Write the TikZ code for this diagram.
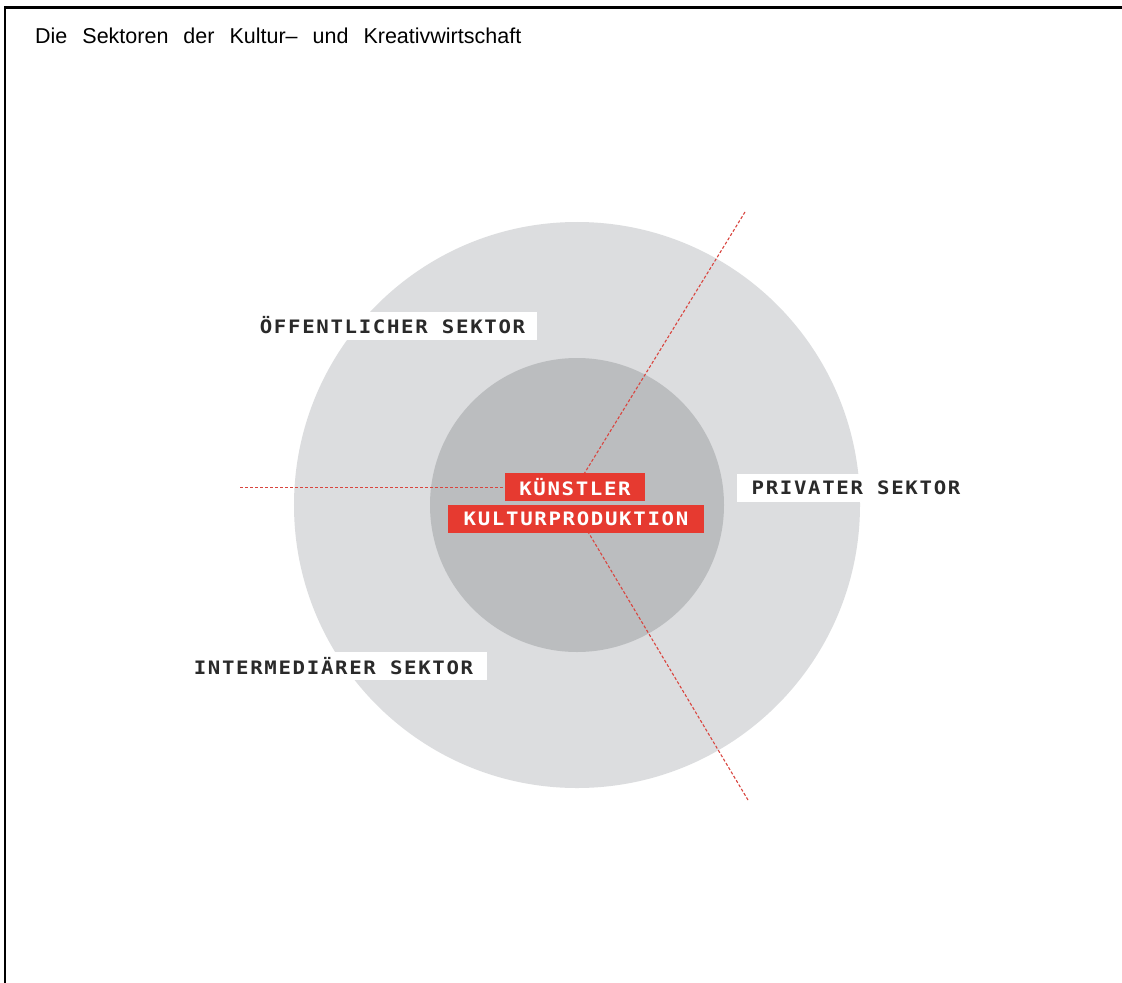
\documentclass[tikz,border=0pt]{standalone}
\usepackage{fontspec}
\setmainfont{Liberation Sans}
\newfontfamily\labfont[FakeStretch=1.12,LetterSpace=9]{DejaVu Sans Mono Bold}
\definecolor{outergray}{HTML}{DCDDDF}
\definecolor{innergray}{HTML}{BBBDBF}
\definecolor{kred}{HTML}{E63A30}
\definecolor{dashred}{HTML}{D9453F}
\definecolor{labtext}{HTML}{2A2A2A}
\begin{document}
\begin{tikzpicture}[x=1bp,y=-1bp,
  sector/.style={fill=white, text=labtext, inner xsep=0bp, inner ysep=0bp, minimum height=28bp, font=\labfont\fontsize{18.5bp}{19bp}\selectfont},
  core/.style={fill=kred, text=white, inner xsep=0bp, inner ysep=0bp, minimum height=28bp, font=\labfont\fontsize{18.5bp}{19bp}\selectfont},
  divider/.style={draw=dashred, line width=1.1bp, dash pattern=on 3bp off 2bp}]
\useasboundingbox (0,0) rectangle (1122,983);
\fill[white] (0,0) rectangle (1122,983);
% frame
\draw[line width=2.2bp] (5,983) -- (5,7.5) -- (1122,7.5);
% title
\node[anchor=base west, inner sep=0pt, font=\fontsize{21.5bp}{24bp}\selectfont] (title) at (35,43) {\spaceskip=15bp\relax Die Sektoren der Kultur– und Kreativwirtschaft};
% circles
\node[circle, fill=outergray, minimum size=566bp, inner sep=0pt] (outer) at (577,505) {};
\node[circle, fill=innergray, minimum size=294bp, inner sep=0pt] (inner) at (577,505) {};
% dashed dividers
\coordinate (lend) at (240,487.5);
\coordinate (lmid) at (575,487.5);
\coordinate (uend) at (745,212);
\coordinate (umid) at (576,487);
\coordinate (dend) at (748,800);
\coordinate (dmid) at (572,505);
\draw[divider] (lend) -- (lmid);
\draw[divider] (uend) -- (umid);
\draw[divider] (dend) -- (dmid);
% core labels
\node[core, minimum width=140bp] (kuenstler) at (575,487) {KÜNSTLER};
\node[core, minimum width=256bp] (kultur) at (576,519) {KULTURPRODUKTION};
% sector labels
\node[sector, minimum width=289bp] (oeff) at (392.5,325.5) {ÖFFENTLICHER SEKTOR};
\node[sector, minimum width=238bp] (priv) at (856,487.5) {PRIVATER SEKTOR};
\node[sector, minimum width=307bp] (inter) at (333.5,666) {INTERMEDIÄRER SEKTOR};
\end{tikzpicture}
\end{document}
